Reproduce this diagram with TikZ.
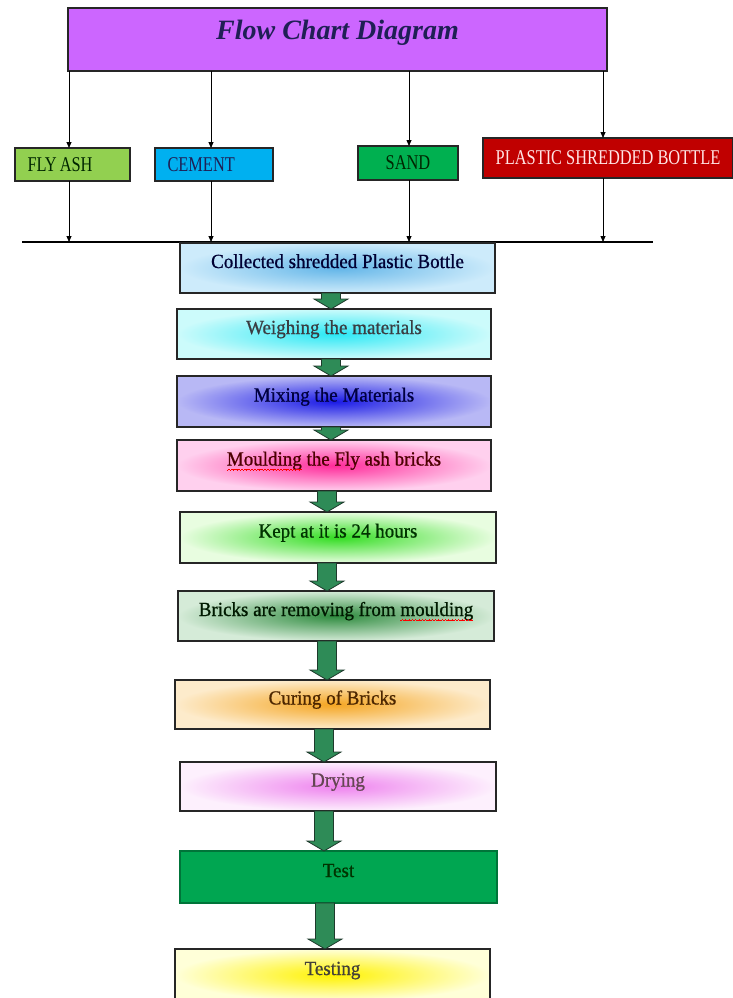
\documentclass[tikz,border=0pt]{standalone}
\usepackage{fontspec}
\setmainfont{Liberation Serif}
\newfontfamily\capsfont[FakeStretch=0.78]{Liberation Serif}
\newfontfamily\procfont[FakeStretch=0.95,FakeBold=0.8]{Liberation Serif}
\usetikzlibrary{calc,arrows.meta}
\definecolor{titlefill}{HTML}{CC66FF}
\definecolor{titletext}{HTML}{1F1F55}
\definecolor{flyfill}{HTML}{92D050}
\definecolor{cemfill}{HTML}{00B0F0}
\definecolor{sandfill}{HTML}{00B050}
\definecolor{plasfill}{HTML}{C00000}
\definecolor{arrowgreen}{HTML}{2E8B57}
\definecolor{arrowedge}{HTML}{1E3A2C}
\definecolor{testfill}{HTML}{00A651}
\definecolor{colIn}{HTML}{62B5E8}\definecolor{colOut}{HTML}{CDEBFB}
\definecolor{weiIn}{HTML}{2BE8F5}\definecolor{weiOut}{HTML}{CCFBFB}
\definecolor{mixIn}{HTML}{1A1AE6}\definecolor{mixOut}{HTML}{B8B8F5}
\definecolor{mouIn}{HTML}{FF2B9A}\definecolor{mouOut}{HTML}{FFD0EE}
\definecolor{kepIn}{HTML}{33DD22}\definecolor{kepOut}{HTML}{E8FDE0}
\definecolor{briIn}{HTML}{2E8B3E}\definecolor{briOut}{HTML}{D5EBD8}
\definecolor{curIn}{HTML}{F5A623}\definecolor{curOut}{HTML}{FDEBCB}
\definecolor{dryIn}{HTML}{EE82EE}\definecolor{dryOut}{HTML}{FDF0FD}
\definecolor{tesIn}{HTML}{FFF200}\definecolor{tesOut}{HTML}{FFFFD8}
\newcommand\wavebit{\rule[-0.1pt]{0.8pt}{0.7pt}\rule[0.4pt]{0.8pt}{0.7pt}\rule[0.9pt]{0.8pt}{0.7pt}\rule[0.4pt]{0.8pt}{0.7pt}}
\newcommand\redwave[1]{\setbox0=\hbox{#1}\leavevmode\rlap{\copy0}%
  \raisebox{-5pt}[0pt][0pt]{\hbox to \wd0{\color{red}\xleaders\hbox{\wavebit}\hfill}}}
\newcommand\barrow[3]{%
  \draw[barrowstyle] let \p1=(#1.south), \p2=(#2.north) in
    (#3pt-9.5pt,\y1) -- (#3pt+9.5pt,\y1) -- (#3pt+9.5pt,\y2+10pt) -- (#3pt+17pt,\y2+10pt)
    -- (#3pt,\y2) -- (#3pt-17pt,\y2+10pt) -- (#3pt-9.5pt,\y2+10pt) -- cycle;}
\tikzset{
  topbox/.style={draw=black!85, line width=1.1pt, inner sep=0pt, outer sep=0pt, anchor=north west,
    font=\capsfont\fontsize{21}{21}\selectfont},
  proc/.style={draw=black!85, line width=1.1pt, inner sep=0pt, outer sep=0pt, anchor=north west,
    minimum width=315pt, minimum height=50pt, font=\procfont\fontsize{20}{20}\selectfont,
    text height=13pt, text depth=13pt},
  glow/.style={inner color=#1In, outer color=#1Out},
  conn/.style={draw=black, line width=0.8pt, -{Triangle[length=6pt,width=5pt]}},
  barrowstyle/.style={fill=arrowgreen, draw=arrowedge, line width=0.8pt, line join=miter}
}
\begin{document}
\begin{tikzpicture}[x=1pt,y=-1pt]
\useasboundingbox (0,0) rectangle (733,998);
\fill[white] (0,0) rectangle (733,998);

% title
\node[topbox, fill=titlefill, minimum width=539pt, minimum height=63pt,
      font=\fontsize{28}{28}\selectfont\bfseries\itshape, text=titletext,
      text height=17pt, text depth=17pt] (title) at (68,8) {Flow Chart Diagram};

% ingredient boxes
\node[topbox, fill=flyfill, minimum width=115pt, minimum height=33pt, text width=90pt,
      align=left, text=black!85!green] (fly) at (15,148) {FLY\hspace{3pt}ASH};
\node[topbox, fill=cemfill, minimum width=118pt, minimum height=33pt, text width=93pt,
      align=left, text=titletext] (cement) at (155,148) {CEMENT};
\node[topbox, fill=sandfill, minimum width=100pt, minimum height=34pt, text=black!85!green] (sand) at (358,146) {SAND};
\node[topbox, fill=plasfill, minimum width=250pt, minimum height=40pt, text=red!10] (plastic) at (483,138) {PLASTIC\hspace{4pt}SHREDDED\hspace{4pt}BOTTLE};

% connector x positions and bus line
\coordinate (fx) at (69,0);
\coordinate (cx) at (211,0);
\coordinate (sx) at (409,0);
\coordinate (px) at (603,0);
\coordinate (busL) at (22,242);
\coordinate (busR) at (653,242);
\draw[line width=1.1pt] (busL) -- (busR);

\draw[conn] (title.south -| fx) -- (fly.north -| fx);
\draw[conn] (title.south -| cx) -- (cement.north -| cx);
\draw[conn] (title.south -| sx) -- (sand.north -| sx);
\draw[conn] (title.south -| px) -- (plastic.north -| px);
\draw[conn] (fly.south -| fx) -- (busL -| fx);
\draw[conn] (cement.south -| cx) -- (busL -| cx);
\draw[conn] (sand.south -| sx) -- (busL -| sx);
\draw[conn] (plastic.south -| px) -- (busL -| px);

% process boxes
\node[proc, glow=col, text=black!80!blue] (collected) at (180,243) {Collected shredded Plastic Bottle};
\node[proc, glow=wei, minimum width=314pt, text=black!85!cyan] (weighing) at (177,309) {Weighing the materials};
\node[proc, glow=mix, minimum width=314pt, minimum height=51pt, text=black!75!blue] (mixing) at (177,376) {Mixing the Materials};
\node[proc, glow=mou, minimum width=314pt, minimum height=51pt, text=black!70!red] (moulding) at (177,440) {\redwave{Moulding} the Fly ash bricks};
\node[proc, glow=kep, minimum width=316pt, minimum height=51pt, text=black!80!green] (kept) at (180,512) {Kept at it is 24 hours};
\node[proc, glow=bri, minimum width=316pt, text=black!90!green] (bricks) at (178,591) {Bricks are removing from \redwave{moulding}};
\node[proc, glow=cur, minimum width=315pt, minimum height=49pt, text=black!70!orange] (curing) at (175,680) {Curing of Bricks};
\node[proc, glow=dry, minimum width=316pt, minimum height=49pt, text=black!70!magenta] (drying) at (180,762) {Drying};
\node[proc, fill=testfill, draw=testfill!70!black, minimum width=317pt, minimum height=52pt, text=black!80!green] (test) at (180,851) {Test};
\node[proc, glow=tes, minimum width=315pt, minimum height=52pt, text=black!85!yellow] (testing) at (175,949) {Testing};

% block arrows
\barrow{collected}{weighing}{331}
\barrow{weighing}{mixing}{331}
\barrow{mixing}{moulding}{331}
\barrow{moulding}{kept}{327}
\barrow{kept}{bricks}{327}
\barrow{bricks}{curing}{327}
\barrow{curing}{drying}{324}
\barrow{drying}{test}{324}
\barrow{test}{testing}{325}
\end{tikzpicture}
\end{document}
